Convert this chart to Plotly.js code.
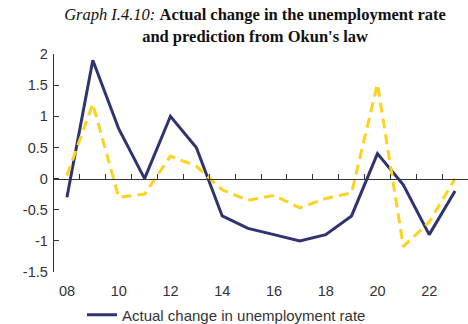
<!DOCTYPE html>
<html><head><meta charset="utf-8">
<script src="https://cdn.plot.ly/plotly-3.0.1.min.js"></script>
<style>html,body{margin:0;padding:0;background:#fff}#c{width:468px;height:324px}</style>
</head><body><div id="c"></div>
<script>
var years = [2008,2009,2010,2011,2012,2013,2014,2015,2016,2017,2018,2019,2020,2021,2022,2023];
var actual = [-0.3,1.9,0.8,0.0,1.0,0.5,-0.6,-0.8,-0.9,-1.0,-0.9,-0.6,0.4,-0.1,-0.9,-0.2];
var predicted = [0.05,1.2,-0.3,-0.25,0.36,0.2,-0.18,-0.35,-0.27,-0.47,-0.32,-0.23,1.52,-1.09,-0.7,0.0];
var labelYears = [2008,2010,2012,2014,2016,2018,2020,2022];
var labelText = ['08','10','12','14','16','18','20','22'];
var yTicks = [-1.5,-1,-0.5,0,0.5,1,1.5,2];
var yTickText = ['-1.5','-1','-0.5','0','0.5','1','1.5','2'];

var traces = [
  {x: years, y: actual, type:'scatter', mode:'lines', name:'Actual change in unemployment rate',
   line:{color:'#2e3470', width:3}},
  {x: years, y: predicted, type:'scatter', mode:'lines', name:"Prediction from Okun's law",
   line:{color:'#ffd21f', width:3, dash:'10px,6px'}, showlegend:false}
];
var xr = [years[0]-0.5, years[years.length-1]+0.5];
var layout = {
  width:468, height:324,
  margin:{l:54, r:0, t:54, b:52, autoexpand:false},
  paper_bgcolor:'#fff', plot_bgcolor:'#fff',
  title:{text:"<i>Graph I.4.10:</i> <b>Actual change in the unemployment rate</b><br><b>and prediction from Okun's law</b>",
    font:{family:'Liberation Serif, Times New Roman, serif', size:16.5, color:'#111'},
    x:0.545, xanchor:'center', y:0.938, yanchor:'top', automargin:false},
  font:{family:'Liberation Sans, Arial, sans-serif', size:14, color:'#333'},
  xaxis:{range:xr, tickmode:'array', tickvals:labelYears, ticktext:labelText,
    showgrid:false, zeroline:false, showline:false, ticks:'', ticklabelstandoff:8,
    tickfont:{size:14.5, color:'#333'}, fixedrange:true},
  xaxis2:{range:xr, overlaying:'x', anchor:'free', position:1.5/3.5,
    tickmode:'linear', tick0:2008.5, dtick:1, ticks:'inside', ticklen:5, tickcolor:'#333', tickwidth:1,
    showline:true, linecolor:'#333', linewidth:1.3, showticklabels:false, showgrid:false, zeroline:false},
  yaxis:{range:[-1.5,2], tickmode:'array', tickvals:yTicks, ticktext:yTickText,
    showgrid:false, zeroline:false, showline:true, linecolor:'#333', linewidth:1.3,
    ticks:'inside', ticklen:5, tickcolor:'#333', ticklabelstandoff:2,
    tickfont:{size:14.5, color:'#333'}},
  showlegend:true,
  legend:{orientation:'h', x:0.0676, xanchor:'left', y:-0.122, yanchor:'top',
    font:{size:15, color:'#333'}, bgcolor:'rgba(0,0,0,0)'}
};
traces.push({x:[years[0]], y:[0], xaxis:'x2', mode:'markers', marker:{opacity:0}, showlegend:false, hoverinfo:'skip'});
Plotly.newPlot('c', traces, layout, {staticPlot:true});
</script></body></html>
